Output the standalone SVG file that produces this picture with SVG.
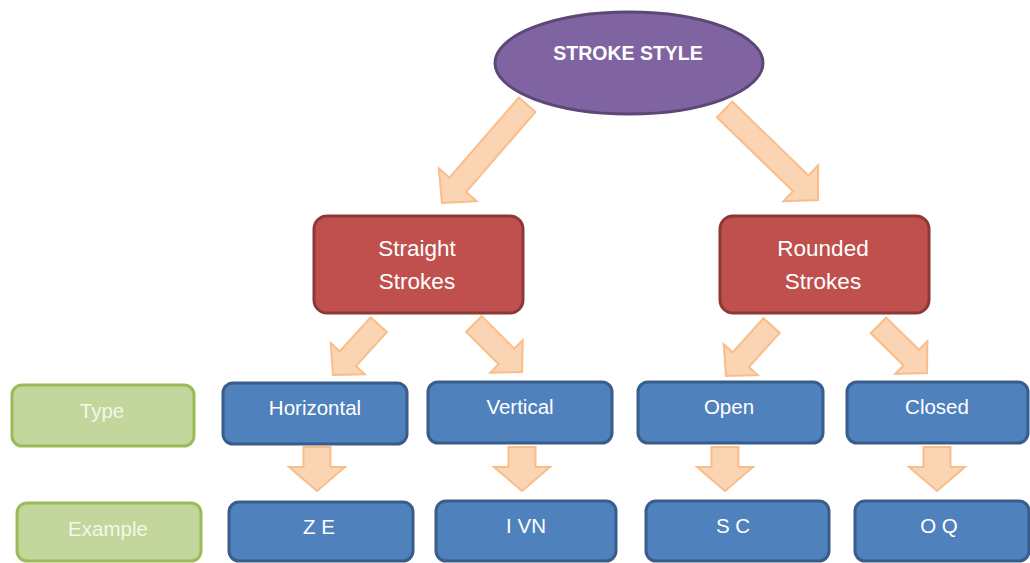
<svg xmlns="http://www.w3.org/2000/svg" xmlns:xlink="http://www.w3.org/1999/xlink" width="1030" height="563" viewBox="0 0 1030 563">
  <style>
    .arrow { fill: #fbd4b4; stroke: #f9bd89; stroke-width: 2; stroke-linejoin: miter; }
    .root { fill: #8064a2; stroke: #5c4776; stroke-width: 3; }
    .red { fill: #c0504d; stroke: #8c3836; stroke-width: 3; }
    .blue { fill: #4f81bd; stroke: #385d8a; stroke-width: 3; }
    .green { fill: #c3d69b; stroke: #9bbb59; stroke-width: 3; }
    text { font-family: "Liberation Sans", Arial, sans-serif; fill: #ffffff; text-anchor: middle; }
    .t-root { font-size: 19.5px; font-weight: bold; }
    .t-red { font-size: 22.5px; }
    .t-box { font-size: 20.5px; }
    .t-green { font-size: 20.5px; fill: #f4f7ec; }
  </style>
  <defs>
    <path id="bigArrow" d="M-11,-130 L11,-130 L11,-24 L25,-24 L0,0 L-25,-24 L-11,-24 Z"/>
    <path id="smallArrow" d="M-11,-68 L11,-68 L11,-22 L23,-22 L0,0 L-23,-22 L-11,-22 Z"/>
    <path id="downArrow" d="M-13.5,0 L13.5,0 L13.5,20 L28,20 L0,44 L-28,20 L-13.5,20 Z"/>
  </defs>

  <g id="connectors">
    <use xlink:href="#bigArrow" class="arrow" transform="translate(442,203) rotate(40.9)"/>
    <use xlink:href="#bigArrow" class="arrow" transform="translate(818,200) rotate(-45.9)"/>
    <use xlink:href="#smallArrow" class="arrow" transform="translate(333,375) rotate(42.3)"/>
    <use xlink:href="#smallArrow" class="arrow" transform="translate(522,372) rotate(-45)"/>
    <use xlink:href="#smallArrow" class="arrow" transform="translate(726,376) rotate(42.1)"/>
    <use xlink:href="#smallArrow" class="arrow" transform="translate(927,373) rotate(-45.6)"/>
    <use xlink:href="#downArrow" class="arrow" transform="translate(317,447)"/>
    <use xlink:href="#downArrow" class="arrow" transform="translate(522,447)"/>
    <use xlink:href="#downArrow" class="arrow" transform="translate(725,447)"/>
    <use xlink:href="#downArrow" class="arrow" transform="translate(937,447)"/>
  </g>

  <g id="node-stroke-style">
    <ellipse class="root" cx="629" cy="63" rx="134" ry="51"/>
    <text class="t-root" x="628" y="60">STROKE STYLE</text>
  </g>

  <g id="node-straight">
    <rect class="red" x="314" y="216" width="209" height="97" rx="13"/>
    <text class="t-red" x="417" y="256">Straight</text>
    <text class="t-red" x="417" y="289">Strokes</text>
  </g>
  <g id="node-rounded">
    <rect class="red" x="720" y="216" width="209" height="97" rx="13"/>
    <text class="t-red" x="823" y="256">Rounded</text>
    <text class="t-red" x="823" y="289">Strokes</text>
  </g>

  <g id="node-type">
    <rect class="green" x="12" y="385" width="182" height="61" rx="10"/>
    <text class="t-green" x="102" y="418">Type</text>
  </g>
  <g id="node-horizontal">
    <rect class="blue" x="223" y="383" width="184" height="61" rx="10"/>
    <text class="t-box" x="315" y="415">Horizontal</text>
  </g>
  <g id="node-vertical">
    <rect class="blue" x="428" y="382" width="184" height="61" rx="10"/>
    <text class="t-box" x="520" y="414">Vertical</text>
  </g>
  <g id="node-open">
    <rect class="blue" x="638" y="382" width="185" height="61" rx="10"/>
    <text class="t-box" x="729" y="414">Open</text>
  </g>
  <g id="node-closed">
    <rect class="blue" x="847" y="382" width="181" height="61" rx="10"/>
    <text class="t-box" x="937" y="414">Closed</text>
  </g>

  <g id="node-example">
    <rect class="green" x="17" y="503" width="184" height="58" rx="10"/>
    <text class="t-green" x="108" y="536">Example</text>
  </g>
  <g id="node-ze">
    <rect class="blue" x="229" y="502" width="184" height="59" rx="10"/>
    <text class="t-box" x="319" y="534">Z E</text>
  </g>
  <g id="node-ivn">
    <rect class="blue" x="436" y="501" width="180" height="60" rx="10"/>
    <text class="t-box" x="526" y="533">I VN</text>
  </g>
  <g id="node-sc">
    <rect class="blue" x="646" y="501" width="183" height="60" rx="10"/>
    <text class="t-box" x="733" y="533">S C</text>
  </g>
  <g id="node-oq">
    <rect class="blue" x="855" y="501" width="174" height="60" rx="10"/>
    <text class="t-box" x="939" y="533">O Q</text>
  </g>
</svg>
